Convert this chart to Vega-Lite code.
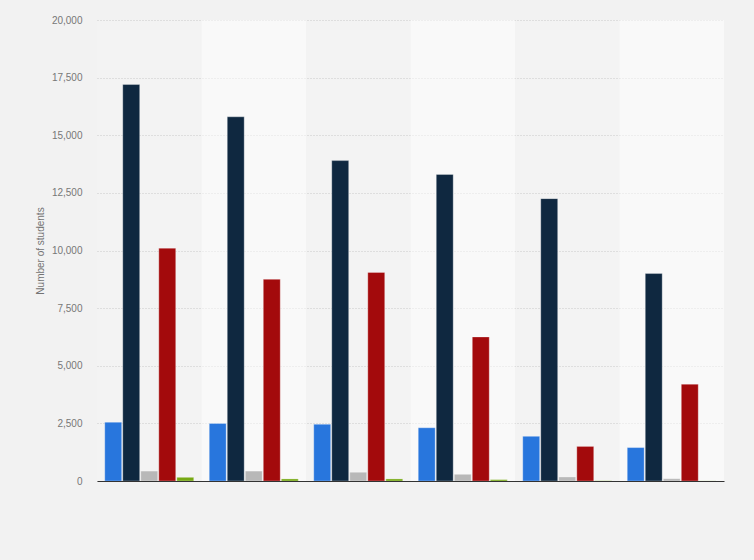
{
  "$schema": "https://vega.github.io/schema/vega-lite/v6.json",
  "width": 627,
  "height": 461,
  "autosize": {"type": "none"},
  "padding": {"left": 97, "top": 20, "right": 30, "bottom": 79},
  "background": "#f2f2f2",
  "config": {"view": {"stroke": null}, "font": "Liberation Sans"},
  "data": {
    "values": [
      {"group": "Group 1", "series": "Series 1", "value": 2550},
      {"group": "Group 1", "series": "Series 2", "value": 17200},
      {"group": "Group 1", "series": "Series 3", "value": 430},
      {"group": "Group 1", "series": "Series 4", "value": 10100},
      {"group": "Group 1", "series": "Series 5", "value": 160},
      {"group": "Group 2", "series": "Series 1", "value": 2500},
      {"group": "Group 2", "series": "Series 2", "value": 15800},
      {"group": "Group 2", "series": "Series 3", "value": 430},
      {"group": "Group 2", "series": "Series 4", "value": 8750},
      {"group": "Group 2", "series": "Series 5", "value": 90},
      {"group": "Group 3", "series": "Series 1", "value": 2460},
      {"group": "Group 3", "series": "Series 2", "value": 13900},
      {"group": "Group 3", "series": "Series 3", "value": 380},
      {"group": "Group 3", "series": "Series 4", "value": 9050},
      {"group": "Group 3", "series": "Series 5", "value": 90},
      {"group": "Group 4", "series": "Series 1", "value": 2310},
      {"group": "Group 4", "series": "Series 2", "value": 13300},
      {"group": "Group 4", "series": "Series 3", "value": 290},
      {"group": "Group 4", "series": "Series 4", "value": 6250},
      {"group": "Group 4", "series": "Series 5", "value": 60},
      {"group": "Group 5", "series": "Series 1", "value": 1940},
      {"group": "Group 5", "series": "Series 2", "value": 12250},
      {"group": "Group 5", "series": "Series 3", "value": 175},
      {"group": "Group 5", "series": "Series 4", "value": 1500},
      {"group": "Group 5", "series": "Series 5", "value": 10},
      {"group": "Group 6", "series": "Series 1", "value": 1450},
      {"group": "Group 6", "series": "Series 2", "value": 9000},
      {"group": "Group 6", "series": "Series 3", "value": 100},
      {"group": "Group 6", "series": "Series 4", "value": 4200},
      {"group": "Group 6", "series": "Series 5", "value": 5}
    ]
  },
  "encoding": {
    "x": {
      "field": "group",
      "type": "nominal",
      "sort": null,
      "scale": {"paddingInner": 0, "paddingOuter": 0},
      "axis": {"labels": false, "ticks": false, "title": null, "domainColor": "#333333", "domainWidth": 1, "grid": false}
    }
  },
  "layer": [
    {
      "transform": [{"filter": "datum.series === 'Series 1'"}],
      "mark": {"type": "rect", "fill": "#ffffff"},
      "encoding": {
        "y": {
          "datum": 20000,
          "type": "quantitative",
          "scale": {"domain": [0, 20000]},
          "axis": {
            "title": "Number of students",
            "titleFontSize": 10,
            "titleFontWeight": "normal",
            "titleColor": "#737373",
            "titleX": -52,
            "values": [0, 2500, 5000, 7500, 10000, 12500, 15000, 17500, 20000],
            "format": ",d",
            "labelFontSize": 10,
            "labelColor": "#777777",
            "labelPadding": 15,
            "domain": false,
            "ticks": false,
            "grid": true,
            "gridColor": "#c6c6c6",
            "gridOpacity": 1,
            "gridDash": [1, 2],
            "gridWidth": 1
          }
        },
        "y2": {"datum": 0},
        "fillOpacity": {
          "condition": {"test": "indexof(['Group 2','Group 4','Group 6'], datum.group) >= 0", "value": 0.5},
          "value": 0.08
        }
      }
    },
    {
      "mark": {"type": "bar", "stroke": "#ffffff", "strokeOpacity": 0.3, "strokeWidth": 1},
      "encoding": {
        "xOffset": {"field": "series", "sort": null, "scale": {"paddingInner": 0.06, "paddingOuter": 0.43}},
        "y": {"field": "value", "type": "quantitative"},
        "color": {
          "field": "series",
          "type": "nominal",
          "sort": null,
          "scale": {
            "domain": ["Series 1", "Series 2", "Series 3", "Series 4", "Series 5"],
            "range": ["#2876dd", "#0f2840", "#b8b8b8", "#a30a0c", "#76a813"]
          },
          "legend": null
        }
      }
    }
  ]
}
